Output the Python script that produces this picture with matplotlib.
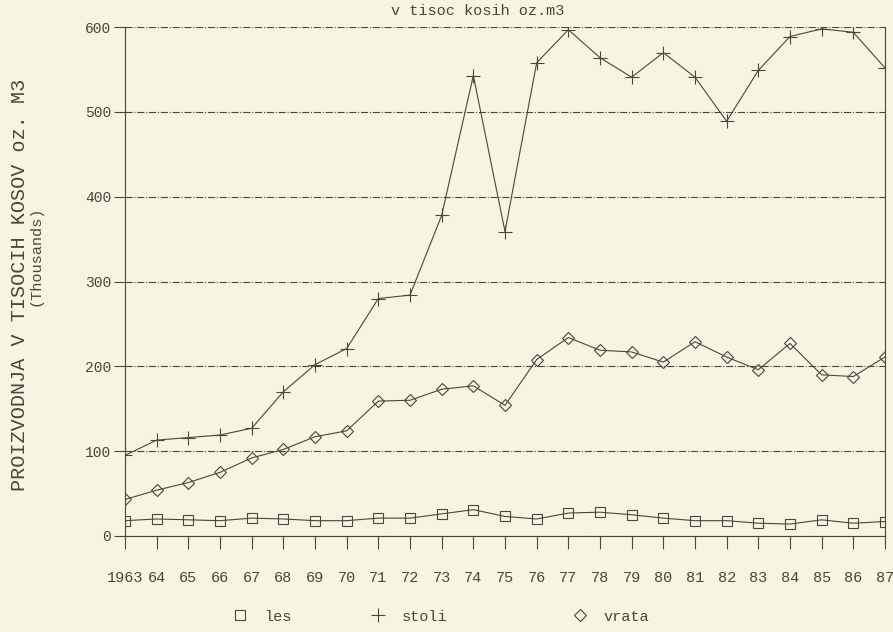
import numpy as np
import matplotlib.pyplot as plt
from matplotlib.lines import Line2D

years = list(range(1963, 1988))
year_labels = ['1963'] + [str(y)[2:] for y in years[1:]]

les = [18, 20, 19, 18, 21, 20, 18, 18, 21, 21, 26, 31,
       23, 20, 27, 28, 25, 21, 18, 18, 15, 14, 19, 15, 17]
stoli = [95, 113, 116, 119, 127, 170, 202, 221, 280, 284, 378, 543,
         359, 558, 597, 564, 541, 570, 541, 489, 549, 589, 598, 594, 552]
vrata = [43, 54, 63, 75, 92, 102, 117, 124, 159, 160, 173, 177,
         154, 208, 234, 219, 217, 205, 229, 211, 196, 227, 190, 188, 211]

paper = '#f7f4e2'
ink = '#4a463e'
font = ['Liberation Mono', 'DejaVu Sans Mono']
plt.rcParams['font.family'] = font

fig = plt.figure(figsize=(8.93, 6.32), dpi=100, facecolor=paper)
ax = fig.add_axes([0.14, 0.152, 0.851, 0.805], facecolor=paper)

mk = dict(color=ink, lw=0.8, markerfacecolor='none', markeredgecolor=ink, markeredgewidth=0.8)
ax.plot(years, les, marker='s', markersize=7, label='les', **mk)
ax.plot(years, stoli, marker='+', markersize=10, label='stoli', **mk)
ax.plot(years, vrata, marker='D', markersize=6, label='vrata', **mk)

ax.set_xlim(1963, 1987)
ax.set_ylim(0, 600)
ax.set_xticks(years)
ax.set_xticklabels(year_labels)
ax.set_yticks(range(0, 601, 100))
ax.yaxis.grid(True, color=ink, lw=0.8, ls='-.')
ax.tick_params(axis='x', direction='out', length=9, width=0.8, color=ink,
               labelcolor=ink, labelsize=11, pad=16)
ax.tick_params(axis='y', direction='out', length=8, width=0.8, color=ink,
               labelcolor=ink, labelsize=10.5, pad=2)
ax.spines['top'].set_visible(False)
for s in ['left', 'right', 'bottom']:
    ax.spines[s].set_color(ink)
    ax.spines[s].set_linewidth(0.8)

fig.text(0.535, 0.982, 'v tisoc kosih oz.m3', fontsize=11, color=ink,
         ha='center', va='center')
fig.text(0.022, 0.55, 'PROIZVODNJA V TISOCIH KOSOV oz. M3', rotation=90,
         fontsize=14.5, color=ink, ha='center', va='center')
fig.text(0.04, 0.595, '(Thousands)', rotation=90,
         fontsize=11, color=ink, ha='center', va='center')

# legend entries placed one by one to match the spread in the original
entries = [('les', 's', 7, 0.256), ('stoli', '+', 10, 0.411), ('vrata', 'D', 6, 0.637)]
for name, m, ms, x in entries:
    h = Line2D([], [], ls='none', marker=m, markersize=ms, markerfacecolor='none',
               markeredgecolor=ink, markeredgewidth=0.8)
    fig.legend([h], [name], loc='center left', bbox_to_anchor=(x, 0.024),
               frameon=False, fontsize=11, handletextpad=0.8, handlelength=1.5,
               labelcolor=ink, borderaxespad=0, borderpad=0)

fig.savefig('out.png', dpi=100, facecolor=paper)
